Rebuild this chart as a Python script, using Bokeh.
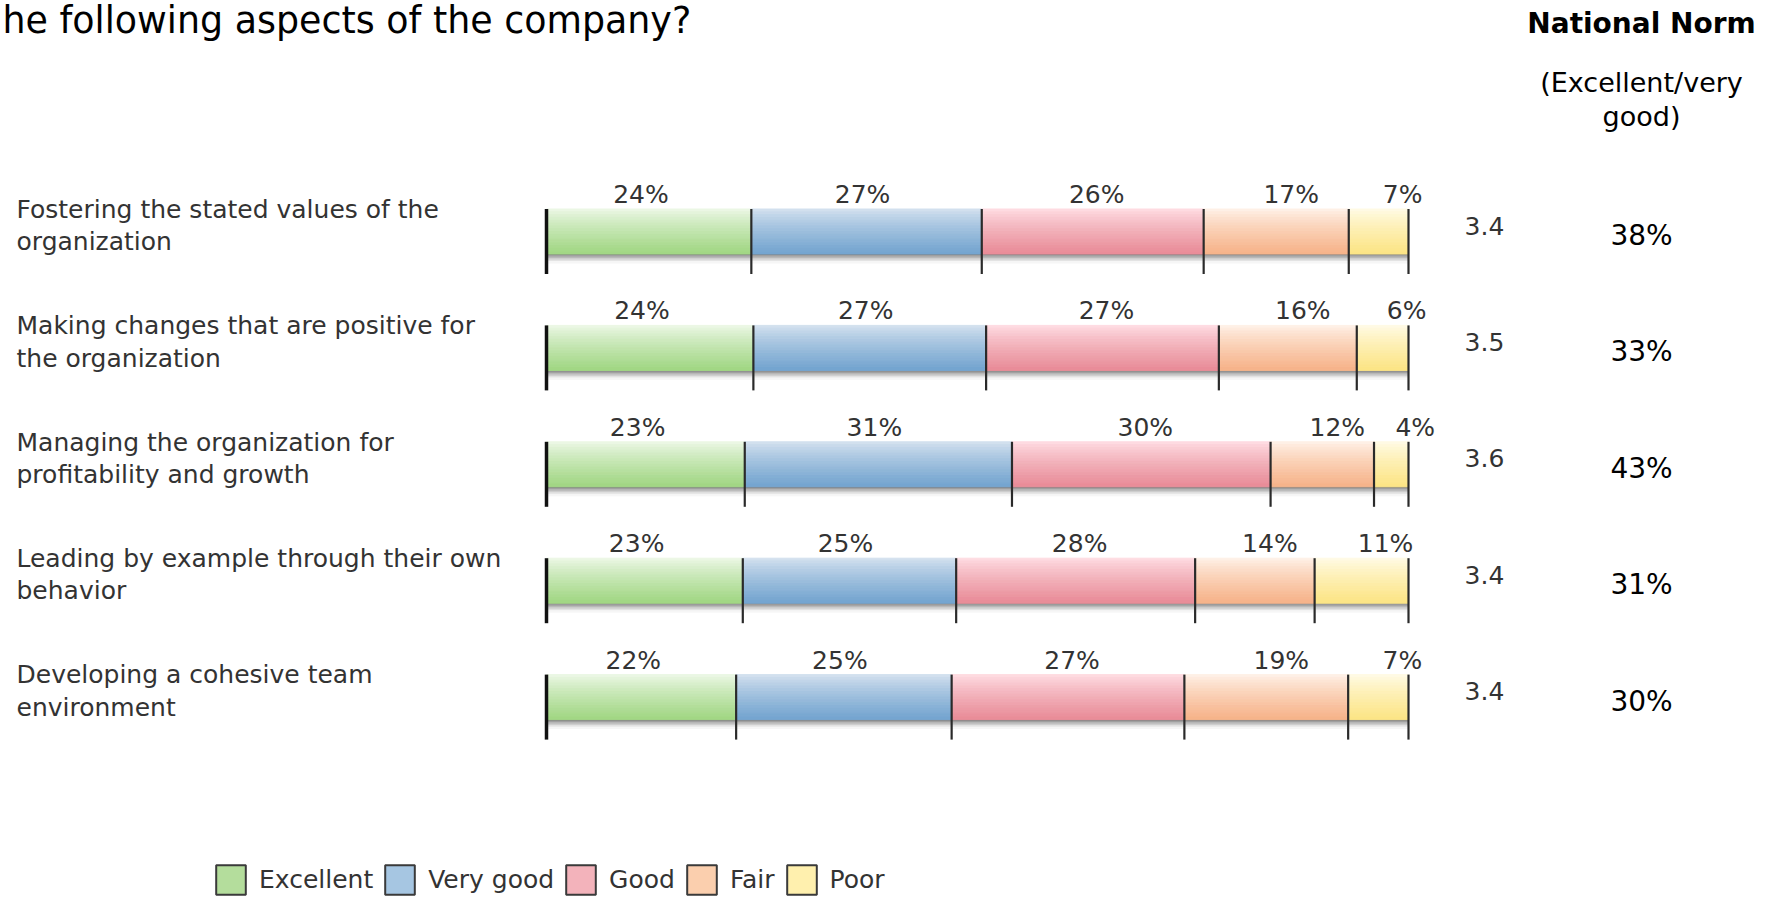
import textwrap
from bokeh.plotting import figure
from bokeh.models import Range1d, ColumnDataSource, Legend, LegendItem
from bokeh.core.properties import value
from bokeh.embed import file_html
from bokeh.resources import INLINE

# ---------------- data ----------------
title_text = "he following aspects of the company?"
norm_title = "National Norm"
norm_subtitle = ["(Excellent/very", "good)"]
categories = [
    "Fostering the stated values of the organization",
    "Making changes that are positive for the organization",
    "Managing the organization for profitability and growth",
    "Leading by example through their own behavior",
    "Developing a cohesive team environment",
]
ratings = ["Excellent", "Very good", "Good", "Fair", "Poor"]
excellent = [24, 24, 23, 23, 22]
very_good = [27, 27, 31, 25, 25]
good = [26, 27, 30, 28, 27]
fair = [17, 16, 12, 14, 19]
poor = [7, 6, 4, 11, 7]
mean_score = [3.4, 3.5, 3.6, 3.4, 3.4]
national_norm = [38, 33, 43, 31, 30]

series = [excellent, very_good, good, fair, poor]

# ---------------- style ----------------
W, H = 1772, 900
BAR_X0, BAR_X1 = 546, 1408
ROW0, ROW_STEP = 231, 116.4
BAR_H = 45
TICK_BELOW = 20
SHADOW_H = 9
PX_PCT = (BAR_X1 - BAR_X0) / 100.0
half = BAR_H / 2 / ROW_STEP
tick_low = (BAR_H / 2 + TICK_BELOW) / ROW_STEP

grad = [  # (top colour, bottom colour)
    ((240, 249, 235), (160, 214, 130)),
    ((216, 228, 240), (114, 163, 207)),
    ((255, 224, 230), (232, 139, 151)),
    ((255, 244, 236), (246, 178, 136)),
    ((255, 252, 234), (252, 228, 132)),
]
legend_fill = ["#b4dd9c", "#a6c6e2", "#f3b3bb", "#fbcfae", "#fff0ae"]
label_dx = [-8, -4, 4, 15, 24]
FONT = "DejaVu Sans"
TXT = "#333333"


def hexc(c):
    return "#%02x%02x%02x" % tuple(int(round(v)) for v in c)


def mix(a, b, t):
    return tuple(a[k] + (b[k] - a[k]) * t for k in range(3))


p = figure(width=W, height=H, x_range=Range1d(0, W), y_range=Range1d(H, 0),
           output_backend="svg", toolbar_location=None, min_border=0,
           x_axis_location=None, y_axis_location=None)
p.grid.visible = False
p.outline_line_color = None
p.background_fill_color = "white"
p.border_fill_color = "white"
p.extra_x_ranges = {"pct": Range1d(-BAR_X0 / PX_PCT, (W - BAR_X0) / PX_PCT)}
p.extra_y_ranges = {"row": Range1d((H - ROW0) / ROW_STEP, -ROW0 / ROW_STEP)}

# ---------------- bars (gradient strips) ----------------
NS = 16
L, R, T, B, C = [], [], [], [], []
sh = dict(l=[], r=[], t=[], b=[], c=[])
tick = dict(x=[], y0=[], y1=[], w=[], c=[])
lab = dict(x=[], y=[], text=[], dx=[])
for i in range(len(categories)):
    vals = [s[i] for s in series]
    tot = float(sum(vals))
    cum = 0.0
    tick["x"].append(0.0); tick["y0"].append(i - half); tick["y1"].append(i + tick_low)
    tick["w"].append(3.5); tick["c"].append("#111111")
    for j, v in enumerate(vals):
        w = v / tot * 100.0
        left, right = cum, cum + w
        for k in range(NS):
            t = (k + 0.5) / NS
            col = mix(grad[j][0], grad[j][1], t ** 0.8)
            L.append(left); R.append(right)
            T.append(i - half + 2 * half * k / NS)
            B.append(i - half + 2 * half * (k + 1) / NS)
            C.append(hexc(col))
        lab["x"].append((left + right) / 2); lab["y"].append(i)
        lab["text"].append(f"{v}%"); lab["dx"].append(label_dx[j])
        cum = right
        tick["x"].append(cum); tick["y0"].append(i - half); tick["y1"].append(i + tick_low)
        tick["w"].append(2.2); tick["c"].append("#2a2a2a")
    # shadow below the bar
    NSH = 6
    for k in range(NSH):
        t = (k + 0.5) / NSH
        sh["l"].append(0.0); sh["r"].append(cum)
        sh["t"].append(i + half + SHADOW_H / ROW_STEP * k / NSH)
        sh["b"].append(i + half + SHADOW_H / ROW_STEP * (k + 1) / NSH)
        sh["c"].append(hexc(mix((100, 100, 100), (255, 255, 255), t ** 0.7)))

p.quad(left="l", right="r", top="t", bottom="b", fill_color="c", line_color="c",
       line_width=1, source=ColumnDataSource(sh), x_range_name="pct", y_range_name="row")
p.quad(left=L, right=R, top=T, bottom=B, fill_color=C, line_color=C, line_width=1,
       x_range_name="pct", y_range_name="row")
p.segment(x0="x", x1="x", y0="y0", y1="y1", line_width="w", line_color="c",
          source=ColumnDataSource(tick), x_range_name="pct", y_range_name="row")

# percent labels
p.text(x="x", y="y", text="text", x_offset="dx", y_offset=-37,
       source=ColumnDataSource(lab), x_range_name="pct", y_range_name="row",
       text_align="center", text_baseline="alphabetic",
       text_font=value(FONT), text_font_size="25px", text_color=TXT)

# category labels
rows = list(range(len(categories)))
wrapped = ["\n".join(textwrap.wrap(c, 36)) for c in categories]
p.text(x=[16] * len(rows), y=rows, text=wrapped, y_range_name="row",
       y_offset=-6, text_align="left", text_baseline="middle",
       text_line_height=1.12,
       text_font=value(FONT), text_font_size="25px", text_color=TXT)

# mean scores
p.text(x=[1484] * len(rows), y=rows, text=[f"{m:.1f}" for m in mean_score],
       y_range_name="row", y_offset=-6, text_align="center",
       text_baseline="alphabetic", text_font=value(FONT),
       text_font_size="25px", text_color=TXT)

# national norm values
p.text(x=[1641] * len(rows), y=rows, text=[f"{n}%" for n in national_norm],
       y_range_name="row", y_offset=4, text_align="center",
       text_baseline="alphabetic", text_font=value(FONT),
       text_font_size="28px", text_color="#000000")

# headings
p.text(x=[2], y=[20], text=[title_text], text_align="left",
       text_baseline="alphabetic", text_font=value(FONT),
       text_font_size="36.4px", text_color="#000000")
p.text(x=[1641], y=[23], text=[norm_title], text_align="center",
       text_baseline="alphabetic", text_font=value(FONT),
       text_font_size="28px", text_font_style="bold", text_color="#000000")
p.text(x=[1641, 1641], y=[82, 116], text=norm_subtitle, text_align="center",
       text_baseline="alphabetic", text_font=value(FONT),
       text_font_size="27px", text_color="#000000")

# legend (swatches only; renderers hold no visible marks)
nan = float("nan")
items = []
for j, name in enumerate(ratings):
    r = p.quad(left=[nan], right=[nan], top=[nan], bottom=[nan],
               fill_color=legend_fill[j], line_color="#3a3a3a", line_width=2)
    items.append(LegendItem(label=name, renderers=[r]))
legend = Legend(items=items, orientation="horizontal", location=(212, 2),
                glyph_width=37, glyph_height=37, label_standoff=10, spacing=8,
                padding=0, margin=0, border_line_color=None,
                background_fill_alpha=0, label_text_font=FONT,
                label_text_font_size="25px", label_text_color=TXT)
p.add_layout(legend)

open("out.html", "w").write(file_html(p, INLINE))
